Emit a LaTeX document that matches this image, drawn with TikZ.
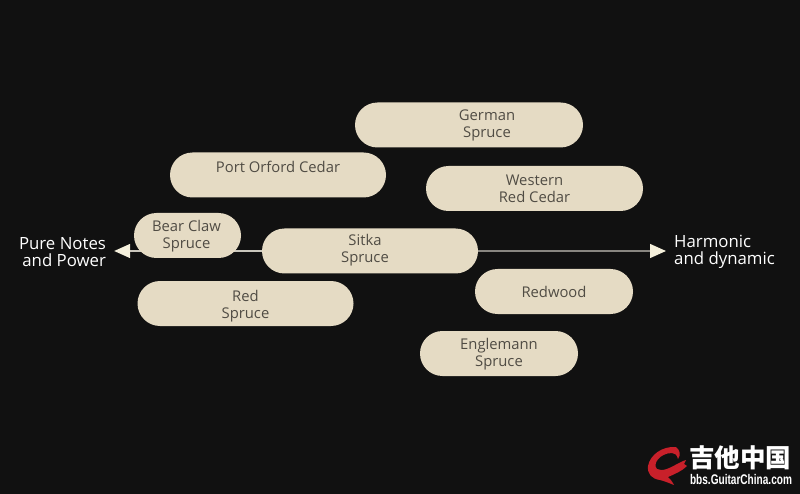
\documentclass[tikz,border=0pt]{standalone}
\usepackage{fontspec}
\setmainfont{Open Sans}
\newfontfamily\cjkfont{Noto Sans CJK SC}[BoldFont={Noto Sans CJK SC Black}]
\newfontfamily\urlfont{Liberation Sans}
\usetikzlibrary{shapes.misc,arrows.meta}
\definecolor{bgdark}{HTML}{111111}
\definecolor{woodbox}{HTML}{E5DBC4}
\definecolor{woodtext}{HTML}{504C44}
\definecolor{axisline}{HTML}{C9C6BC}
\definecolor{axistip}{HTML}{F5F0DC}
\definecolor{logored}{HTML}{C8202A}
\tikzset{
  wood/.style={rounded rectangle,fill=woodbox,text=woodtext,minimum height=45pt,
    inner sep=0pt,align=center,font=\fontsize{14.8}{17}\selectfont},
  endlabel/.style={text=white,inner sep=0pt,
    font=\fontsize{16.8}{17}\selectfont},
  axis/.style={draw=axisline,line width=1.3pt,-{Triangle[length=16pt,width=14pt,fill=axistip,color=axistip]}},
}
\begin{document}
\begin{tikzpicture}[x=1pt,y=-1pt]
  \useasboundingbox[fill=bgdark] (0,0) rectangle (800,494);
  \draw
    (62.5,252) node[endlabel,align=right] (pure){Pure Notes\\and Power}
    (724.5,252) node[endlabel,align=left] (harmonic){Harmonic\\and dynamic};
  \draw
    (370,251) node[wood,minimum width=216pt] (sitka){Sitka\hspace*{10pt}\\Spruce\hspace*{10pt}\rule[-5pt]{0pt}{0pt}};
  \begin{scope}[axis]
    \draw (sitka) to ([xshift=8pt]sitka -| pure.east);
    \draw (sitka) to ([xshift=-8pt]sitka -| harmonic.west);
  \end{scope}
  \draw
    (469,125) node[wood,minimum width=228pt] (german){\hspace*{36pt}German\\\hspace*{36pt}Spruce}
    (278,175) node[wood,minimum width=216pt] (cedar){Port Orford Cedar\\[0pt]}
    (534.5,188.5) node[wood,minimum width=217pt] (western){Western\\Red Cedar}
    (187.5,235.5) node[wood,minimum width=107pt] (bear){\hspace*{-2pt}\rule{0pt}{13.5pt}Bear Claw\\\hspace*{-2pt}Spruce}
    (245.5,303.5) node[wood,minimum width=216pt] (red){\rule{0pt}{16.5pt}Red\\Spruce}
    (554,291.5) node[wood,minimum width=158pt] (redwood){Redwood}
    (499,353.5) node[wood,minimum width=158pt] (englemann){\rule{0pt}{12.5pt}Englemann\\Spruce};
  % watermark
  \fill[logored] (676,447) .. controls (662,446) and (650,455) .. (648,466)
    .. controls (647,474) and (652,479) .. (660,480)
    .. controls (664,481) and (669,483) .. (674,485)
    .. controls (672,481) and (670,479) .. (668,477)
    .. controls (675,474) and (682,471) .. (687,466)
    -- (684,464) -- (686,460)
    .. controls (682,461) and (680,463) .. (677,464)
    .. controls (670,468) and (662,472) .. (657,469)
    .. controls (652,464) and (660,453) .. (672,453)
    .. controls (675,453) and (677,455) .. (678,459)
    .. controls (681,455) and (680,450) .. (676,447);
  \node[text=white,inner sep=0pt,font=\cjkfont\bfseries\fontsize{25.5}{26}\selectfont] (logotext) at (740,458) {吉他中国};
  \node[text=white,inner sep=0pt,xscale=.72,font=\urlfont\bfseries\fontsize{14}{14}\selectfont] (logourl) at (741,479) {bbs.GuitarChina.com};
\end{tikzpicture}
\end{document}
